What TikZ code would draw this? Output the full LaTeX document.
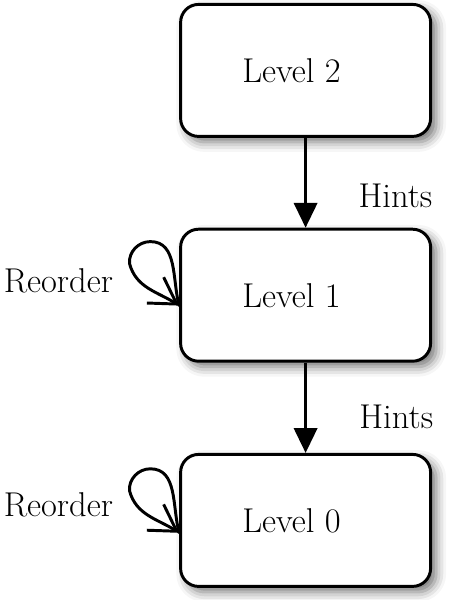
\documentclass[tikz,border=0pt]{standalone}
\usepackage{tikz}
\usetikzlibrary{arrows.meta,positioning,shadows.blur}

\begin{document}
\begin{tikzpicture}[
  level/.style={draw, line width=2.1pt, rounded corners=0.45cm,
    minimum width=6.25cm, minimum height=3.3cm, fill=white,
    blur shadow={shadow xshift=4pt, shadow yshift=-4pt,
      shadow blur radius=7pt, shadow opacity=55}},
  hint/.style={-{Triangle[length=0.62cm,width=0.58cm]}, line width=2.1pt},
  reorder/.style={-{Straight Barb[length=0.64cm,width=0.77cm]},
    line width=2.1pt, line cap=round, line join=round}
  ]
 \useasboundingbox (0,0) rectangle (11.25,-15);
 \fontsize{24.5}{29}\selectfont
 \draw (7.64,-1.76) node[level] (lvl2) {Level 2\kern20pt};
  \draw (7.64,-7.38) node[level] (lvl1) {Level 1\kern20pt};
  \draw (7.64,-13.01) node[level] (lvl0) {Level 0\kern20pt};

     % hints passed down
     \path[hint] (lvl2) edge node[pos=0.64, right=1.0cm] (hint2) {Hints} (lvl1);
     \path[hint] (lvl1) edge node[pos=0.6, right=1.02cm] (hint1) {Hints} (lvl0);

     % reorder loops
     \coordinate (t1) at ([yshift=-0.26cm]lvl1.west);
     \coordinate (t0) at ([yshift=-0.31cm]lvl0.west);
     \draw[reorder] (t1) to[out=105,in=0] ++(-0.72,1.6) to[out=180,in=95] ++(-0.52,-0.55)
        to[out=-75,in=147] (t1);
     \draw[reorder] (t0) to[out=105,in=0] ++(-0.72,1.6) to[out=180,in=95] ++(-0.52,-0.55)
        to[out=-75,in=147] (t0);
     \draw ([xshift=-1.36cm,yshift=0.37cm]lvl1.west) node[anchor=east] (ro1) {Reorder};
     \draw ([xshift=-1.36cm,yshift=0.39cm]lvl0.west) node[anchor=east] (ro0) {Reorder};

\end{tikzpicture}
\end{document}
